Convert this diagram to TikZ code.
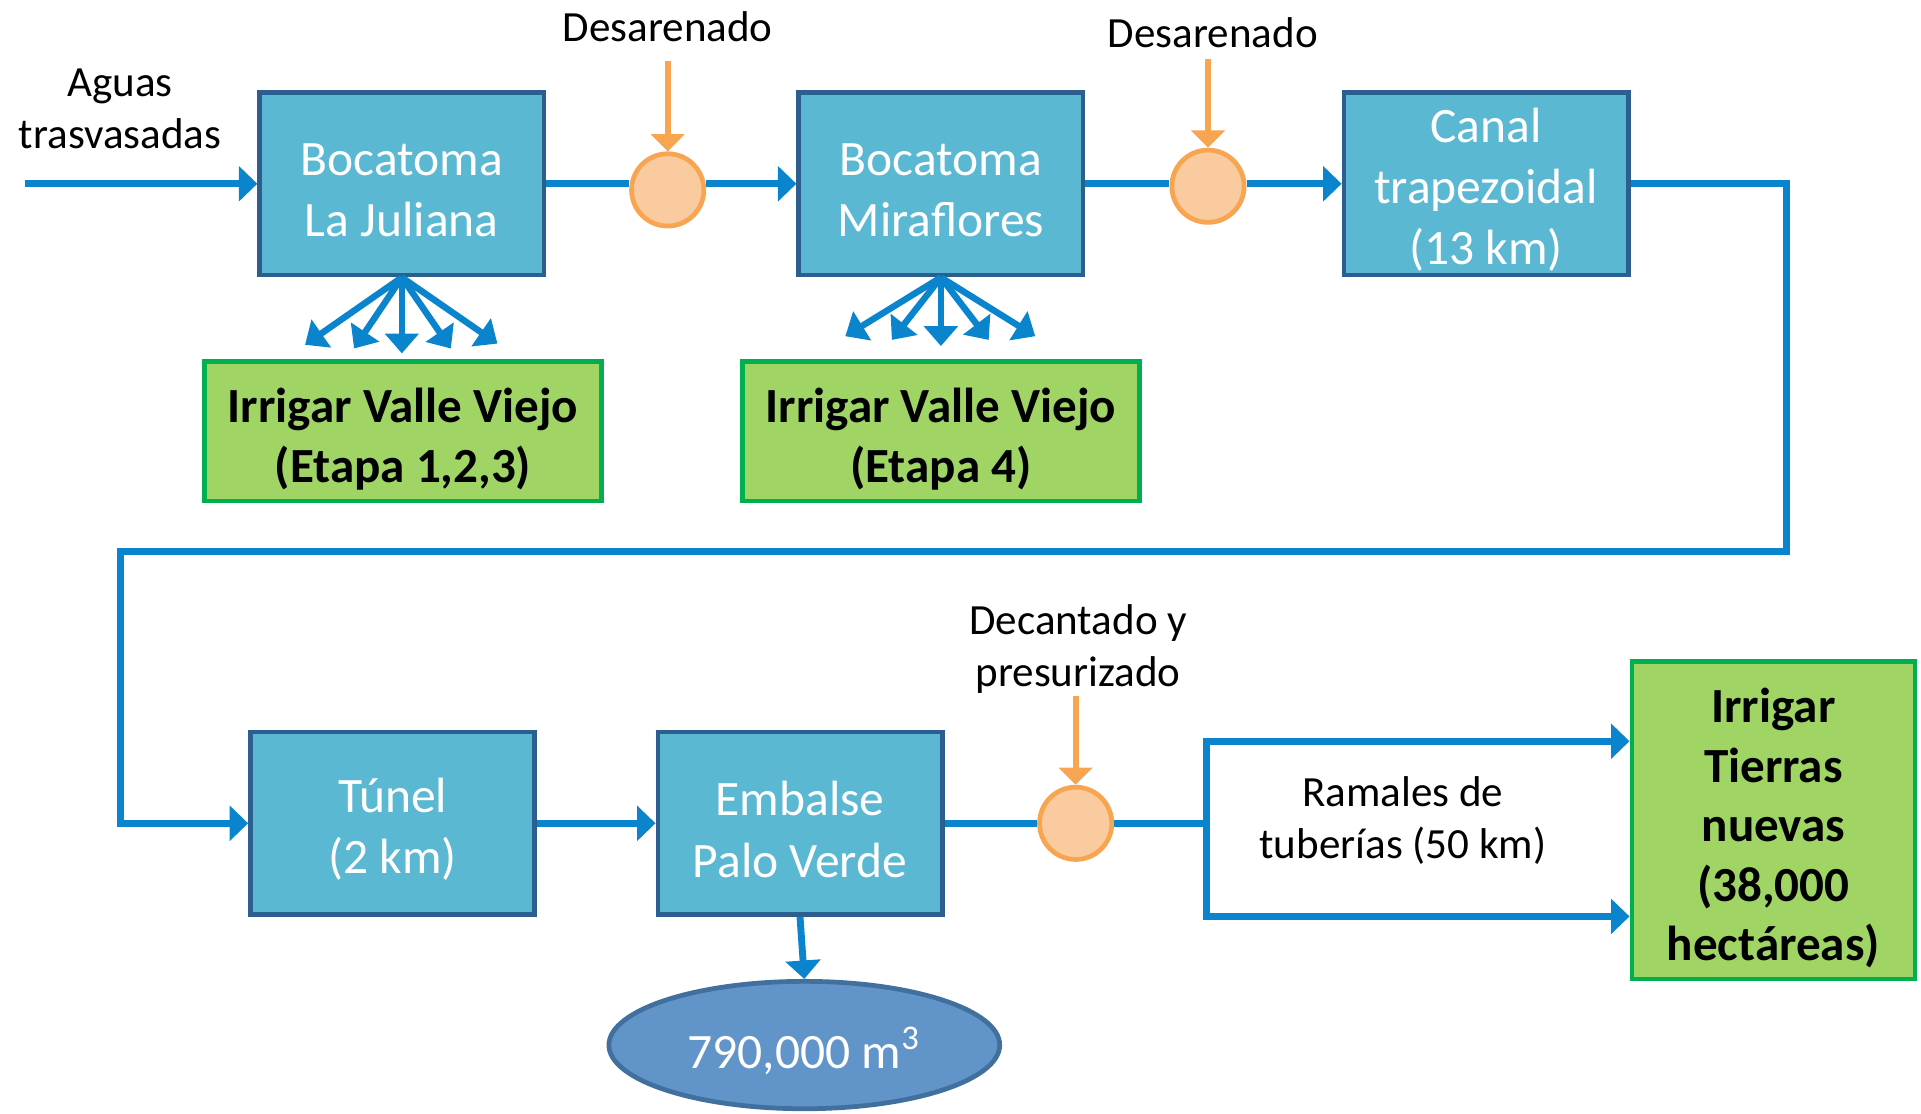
\documentclass[tikz,border=0pt]{standalone}
\usepackage{fontspec}
\setmainfont{Carlito}
\usetikzlibrary{arrows.meta,shapes.geometric}

\definecolor{procfill}{HTML}{5BB8D3}
\definecolor{procline}{HTML}{2C5E90}
\definecolor{goalfill}{HTML}{A0D565}
\definecolor{goalline}{HTML}{00B050}
\definecolor{sandfill}{HTML}{FACB9F}
\definecolor{sandline}{HTML}{F8A552}
\definecolor{pipeblue}{HTML}{0A84CC}
\definecolor{damfill}{HTML}{6194C8}
\definecolor{damline}{HTML}{41709F}

\tikzset{
  ptext/.style={align=center, text=white, inner sep=0pt, yshift=-0.05cm,
    font=\fontsize{11.5}{14.2}\selectfont},
  gtext/.style={align=center, inner sep=0pt, yshift=-0.065cm,
    font=\bfseries\fontsize{11.4}{13.8}\selectfont},
  proc/.style={draw=procline, fill=procfill, line width=1.1pt, minimum width=2.32cm,
    minimum height=1.49cm, inner sep=0pt, label={[ptext]center:{#1}}},
  goal/.style={draw=goalline, fill=goalfill, line width=1.1pt, inner sep=0pt,
    label={[gtext]center:{#1}}},
  sand/.style={circle, draw=sandline, fill=sandfill, line width=1.1pt,
    minimum size=0.59cm, inner sep=0pt},
  note/.style={align=center, font=\fontsize{10}{12}\selectfont},
  pipe/.style={draw=pipeblue, line width=1.6pt},
  flow/.style={pipe, -{Triangle[length=4.3pt,width=8pt]}},
  fan/.style={pipe, line width=1.5pt, -{Triangle[length=4.6pt,width=7.7pt]}},
  feed/.style={draw=sandline, line width=1.4pt, -{Triangle[length=4pt,width=7.7pt]}}
}

\begin{document}
\begin{tikzpicture}
\useasboundingbox (0,0) rectangle (15.68,-9.085);

% upper row
\node[proc={Bocatoma\\La Juliana}] (jul) at (3.28,-1.50) {};
\node[proc={Bocatoma\\Miraflores}] (mir) at (7.68,-1.50) {};
\node[proc={Canal\\trapezoidal\\(13 km)}] (can) at (12.13,-1.50) {};
\node[sand] (d1) at (5.45,-1.55) {};
\node[sand] (d2) at (9.86,-1.52) {};
\node[note] (ag) at (0.98,-0.89) {Aguas\\trasvasadas};
\node[note] (t1) at (5.45,-0.22) {Desarenado};
\node[note] (t2) at (9.90,-0.27) {Desarenado};
\coordinate (src) at (0.20,-1.50);
\coordinate (s1) at (5.45,-0.50);
\coordinate (s2) at (9.86,-0.48);

\node[goal={Irrigar Valle Viejo\\(Etapa 1,2,3)}, minimum width=3.24cm,
  minimum height=1.14cm] (vv1) at (3.29,-3.52) {};
\node[goal={Irrigar Valle Viejo\\(Etapa 4)}, minimum width=3.24cm,
  minimum height=1.14cm] (vv2) at (7.68,-3.52) {};

\draw[flow] (src) -- (jul.west);
\draw[pipe] (jul.east) -- (jul.east -| d1.west);
\draw[flow] (mir.west -| d1.east) -- (mir.west);
\draw[feed] (s1) -- (d1.north);
\draw[pipe] (mir.east) -- (mir.east -| d2.west);
\draw[flow] (can.west -| d2.east) -- (can.west);
\draw[feed] (s2) -- (d2.north);

\foreach \i/\dx/\dy in {1/-0.79/0.55, 2/-0.39/0.58, 3/0/0.62, 4/0.40/0.58, 5/0.78/0.54}{
  \path (jul.south) ++(\dx,-\dy) coordinate (ja\i);
  \draw[fan] (jul.south) -- (ja\i);
}
\foreach \i/\dx/\dy in {1/-0.78/0.48, 2/-0.40/0.51, 3/0/0.56, 4/0.39/0.51, 5/0.77/0.48}{
  \path (mir.south) ++(\dx,-\dy) coordinate (ma\i);
  \draw[fan] (mir.south) -- (ma\i);
}

%%%%%%%%%%%%%%%%%%%%%%%%%%%%%%%%%%%%%%%%

% lower row
\node[proc={Túnel\\(2 km)}] (tun) at (3.205,-6.72) {};
\node[proc={Embalse\\Palo Verde}] (emb) at (6.53,-6.72) {};
\node[sand] (d3) at (8.78,-6.72) {};
\node[note] (t3) at (8.80,-5.295) {Decantado y\\presurizado};
\coordinate (s3) at (8.78,-5.68);
\node[ellipse, draw=damline, fill=damfill, line width=1.1pt, minimum width=3.19cm,
  minimum height=1.04cm, inner sep=0pt,
  label={[ptext]center:{790,000 m\textsuperscript{3}}}] (vol) at (6.565,-8.53) {};
\node[goal={Irrigar\\Tierras\\nuevas\\(38,000\\hectáreas)}, minimum width=2.31cm,
  minimum height=2.59cm] (tn) at (14.475,-6.695) {};
\node[note] (ram) at (11.45,-6.70) {Ramales de\\tuberías (50 km)};

\coordinate (bend1) at (14.58,-4.50);
\coordinate (bend2) at (0.98,-4.50);
\coordinate (split) at (9.85,-6.72);
\coordinate (brT) at (9.85,-6.05);
\coordinate (brB) at (9.85,-7.48);

\draw[flow] (can.east) -| (bend1) -- (bend2) |- (tun.west);
\draw[flow] (tun.east) -- (emb.west);
\draw[flow] (emb.south) -- (vol.north);
\draw[pipe] (emb.east) -- (d3.west);
\draw[pipe] (d3.east) -- (split);
\draw[feed] (s3) -- (d3.north);
\draw[flow] (split) -- (brT) -- (brT -| tn.west);
\draw[flow] (split) -- (brB) -- (brB -| tn.west);

\end{tikzpicture}
\end{document}
